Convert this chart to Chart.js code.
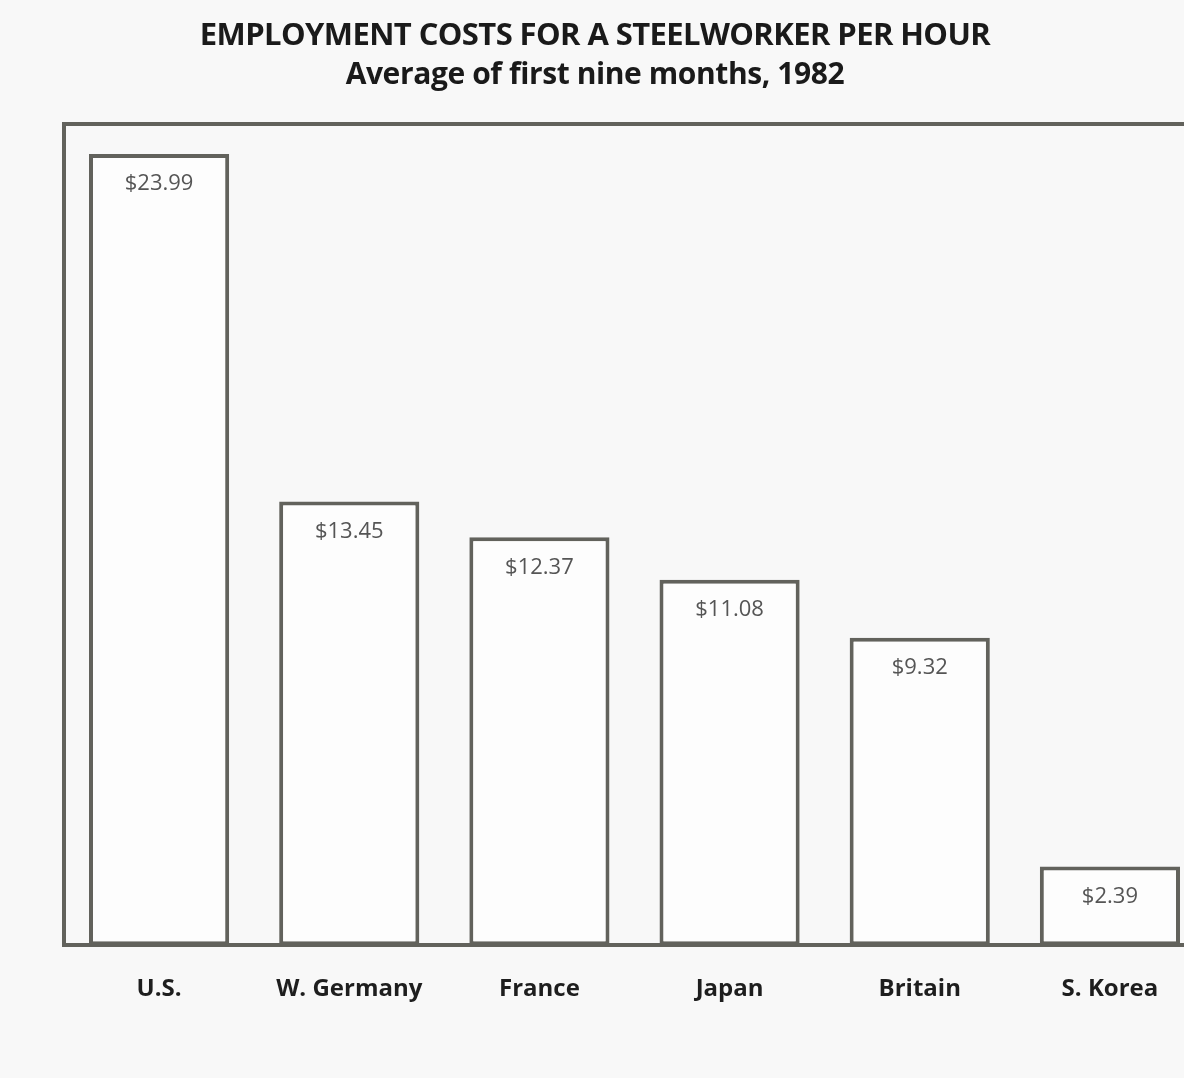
<!DOCTYPE html>
<html>
<head>
<meta charset="utf-8">
<script src="https://cdn.jsdelivr.net/npm/chart.js@4/dist/chart.umd.min.js"></script>
<style>
  body { margin: 0; background: #f8f8f8; overflow: hidden; }
  #wrap { position: relative; width: 1215px; height: 1078px; }
  #titles { position: absolute; left: 0; top: 0; width: 1184px; text-align: center; font-family: "Open Sans", sans-serif; font-weight: 700; color: #1a1a1a; }
  #t1 { position: absolute; left: 0; width: 1190px; top: 12px; font-size: 31px; letter-spacing: -0.6px; }
  #t2 { position: absolute; left: 0; width: 1190px; top: 52px; font-size: 30px; letter-spacing: -0.4px; }
</style>
</head>
<body>
<div id="wrap">
  <canvas id="myChart" width="1215" height="1078"></canvas>
  <div id="titles">
    <div id="t1">EMPLOYMENT COSTS FOR A STEELWORKER PER HOUR</div>
    <div id="t2">Average of first nine months, 1982</div>
  </div>
</div>
<script>
const countries = ["U.S.", "W. Germany", "France", "Japan", "Britain", "S. Korea"];
const costs = [23.99, 13.45, 12.37, 11.08, 9.32, 2.39];

const lineColor = "#62625c";

// labels inside the top of each bar
const barLabels = {
    id: 'barLabels',
    afterDatasetsDraw(chart) {
        const ctx = chart.ctx;
        const meta = chart.getDatasetMeta(0);
        ctx.save();
        ctx.fillStyle = "#555555";
        ctx.font = '22px "Open Sans", sans-serif';
        ctx.textAlign = "center";
        ctx.textBaseline = "middle";
        meta.data.forEach(function(bar, i) {
            ctx.fillText("$" + costs[i].toFixed(2), bar.x, bar.y + 30);
        });
        ctx.restore();
    }
};

new Chart(document.getElementById("myChart"), {
    type: "bar",
    data: {
        labels: countries,
        datasets: [{
            data: costs,
            backgroundColor: "#fdfdfd",
            borderColor: lineColor,
            borderWidth: 4,
            borderSkipped: false,
            categoryPercentage: 1,
            barPercentage: 0.737
        }]
    },
    options: {
        responsive: false,
        animation: false,
        layout: {
            padding: { left: 64, top: 124, right: 10, bottom: 44 }
        },
        plugins: {
            legend: { display: false },
            tooltip: { enabled: false }
        },
        scales: {
            x: {
                grid: { display: false, drawTicks: false },
                border: { color: lineColor, width: 4 },
                ticks: {
                    padding: 30,
                    color: "#1e1e1e",
                    font: { family: "Open Sans", size: 24, weight: "700", lineHeight: 1.2 }
                }
            },
            top: {
                position: "top",
                grid: { display: false, drawTicks: false },
                border: { color: lineColor, width: 4 },
                ticks: { display: false }
            },
            y: {
                min: 0,
                max: 24.9,
                grid: { display: false, drawTicks: false },
                border: { color: lineColor, width: 4 },
                ticks: { display: false }
            }
        }
    },
    plugins: [barLabels]
});
</script>
</body>
</html>
